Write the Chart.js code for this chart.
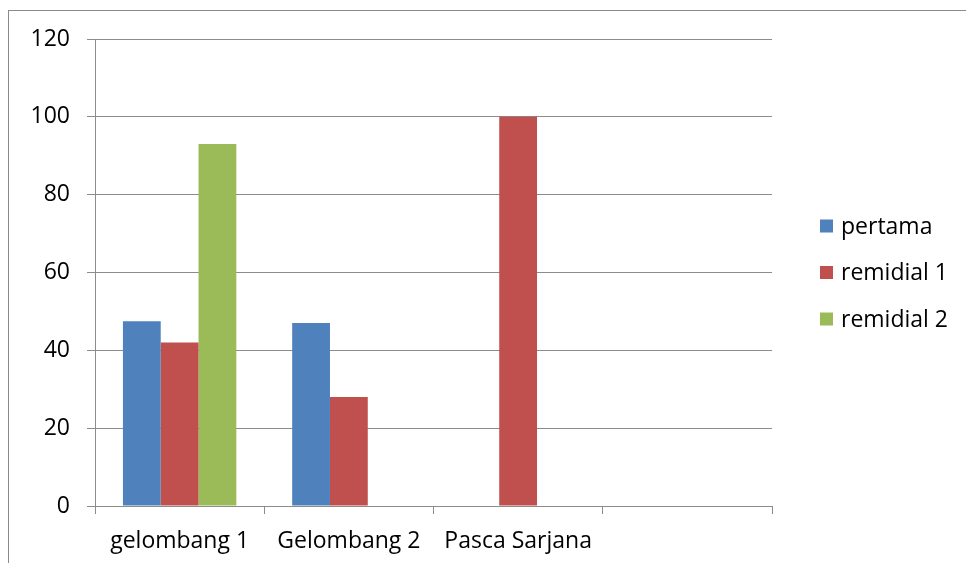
<!DOCTYPE html>
<html>
<head>
<meta charset="utf-8">
<script src="https://cdn.jsdelivr.net/npm/chart.js@4/dist/chart.umd.min.js"></script>
<style>
  html, body { margin: 0; padding: 0; background: #fff; overflow: hidden; }
  #wrap { position: relative; width: 966px; height: 563px; }
  #frame { position: absolute; left: 8px; top: 10px; width: 2000px; height: 2000px; border: 1px solid #8a8a8a; box-sizing: border-box; }
  canvas { position: absolute; left: 0; top: 0; }
</style>
</head>
<body>
<div id="wrap">
  <div id="frame"></div>
  <canvas id="chart" width="966" height="563"></canvas>
</div>
<script>
const categories = ['gelombang 1', 'Gelombang 2', 'Pasca Sarjana', ''];
const pertama = [47.5, 47, 0, 0];
const remidial1 = [42, 28, 100, 0];
const remidial2 = [93, 0, 0, 0];
const yTicks = [0, 20, 40, 60, 80, 100, 120];

const FONT = '"Open Sans", Lato, sans-serif';
const gridColor = '#8c8c8c';

// legend drawn by hand so the boxes sit where Excel put them
const sideLegend = {
    id: 'sideLegend',
    afterDraw(chart) {
        const ctx = chart.ctx;
        const rows = [226, 272.5, 319];
        ctx.save();
        ctx.font = '23px ' + FONT;
        ctx.textBaseline = 'middle';
        ctx.textAlign = 'left';
        chart.data.datasets.forEach((ds, i) => {
            ctx.fillStyle = ds.backgroundColor;
            ctx.fillRect(820, rows[i] - 6.5, 13, 13);
            ctx.fillStyle = '#000';
            ctx.fillText(ds.label, 841, rows[i] + 1);
        });
        ctx.restore();
    }
};

new Chart(document.querySelector('#chart').getContext('2d'), {
    type: 'bar',
    data: {
        labels: categories,
        datasets: [
            { label: 'pertama', data: pertama, backgroundColor: '#4F81BD' },
            { label: 'remidial 1', data: remidial1, backgroundColor: '#C0504D' },
            { label: 'remidial 2', data: remidial2, backgroundColor: '#9BBB59' }
        ]
    },
    options: {
        responsive: false,
        animation: false,
        layout: { padding: { left: 0, top: 39, right: 194, bottom: 0 } },
        datasets: { bar: { barPercentage: 1, categoryPercentage: 0.67, borderWidth: 0 } },
        plugins: { legend: { display: false }, tooltip: { enabled: false } },
        scales: {
            x: {
                grid: { offset: true, drawOnChartArea: false, tickLength: 8, color: gridColor, lineWidth: 1 },
                border: { color: gridColor, width: 1 },
                ticks: { color: '#000', font: { family: FONT, size: 23 }, padding: 14, maxRotation: 0, autoSkip: false },
                afterFit(scale) { scale.height = 57; }
            },
            y: {
                min: 0, max: 120,
                afterBuildTicks(scale) { scale.ticks = yTicks.map(v => ({ value: v })); },
                grid: { color: gridColor, lineWidth: 1, tickLength: 8 },
                border: { color: gridColor, width: 1 },
                ticks: { color: '#000', font: { family: FONT, size: 23 }, padding: 17 },
                afterFit(scale) { scale.width = 95; }
            }
        }
    },
    plugins: [sideLegend]
});
</script>
</body>
</html>
